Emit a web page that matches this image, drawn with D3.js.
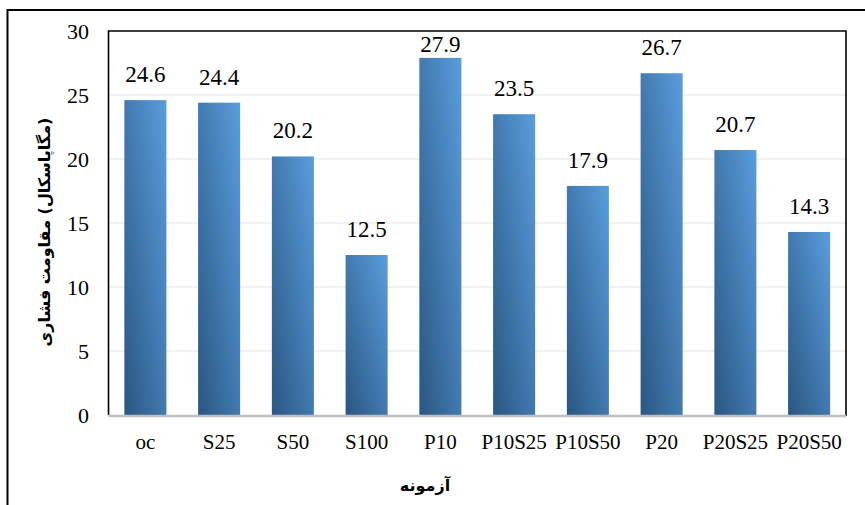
<!DOCTYPE html>
<html><head><meta charset="utf-8">
<script src="https://cdn.jsdelivr.net/npm/d3@7"></script>
</head><body style="margin:0">
<svg id="c" width="865" height="505" font-family="Liberation Serif" style="font-family:'Liberation Serif'"></svg>
<script>
const categories = ["oc","S25","S50","S100","P10","P10S25","P10S50","P20","P20S25","P20S50"];
const values = [24.6,24.4,20.2,12.5,27.9,23.5,17.9,26.7,20.7,14.3];
const yTicks = [0,5,10,15,20,25,30];
const yTitle = "(مگاپاسکال) مقاومت فشاری";
const xTitle = "آزمونه";

const SERIF = "Liberation Serif";
const FA = "DejaVu Sans";
const svg = d3.select("#c");
const L = 108.5, R = 846, T = 31, B = 415;
const x = d3.scaleBand().domain(categories).range([L, R]).paddingInner(0.43).paddingOuter(0.215);
const y = d3.scaleLinear().domain([0, 30]).range([B, T]);

const defs = svg.append("defs");
const g = defs.append("linearGradient").attr("id","bg").attr("x1",0).attr("y1",1).attr("x2",1).attr("y2",0);
g.append("stop").attr("offset","0").attr("stop-color","#2a5682");
g.append("stop").attr("offset","1").attr("stop-color","#5a9ddd");

// outer border
svg.append("rect").attr("x",7.5).attr("y",10).attr("width",900).attr("height",520)
  .attr("fill","none").attr("stroke","#000").attr("stroke-width",2);

// gridlines
svg.append("g").selectAll("line").data(yTicks.filter(d=>d>0&&d<30)).join("line")
  .attr("x1",L).attr("x2",R).attr("y1",d=>y(d)).attr("y2",d=>y(d))
  .attr("stroke","#ededed").attr("stroke-width",1.5);

// bars
svg.append("g").selectAll("rect").data(values).join("rect")
  .attr("x",(d,i)=>x(categories[i])).attr("width",x.bandwidth())
  .attr("y",d=>y(d)).attr("height",d=>B-y(d)).attr("fill","url(#bg)");

// plot frame (left, top, right)
svg.append("path").attr("d",`M${L},${B}V${T}H${R}V${B+1}`).attr("fill","none")
  .attr("stroke","#000").attr("stroke-width",1.6);
// x axis line
svg.append("line").attr("x1",L).attr("x2",R).attr("y1",B+1).attr("y2",B+1)
  .attr("stroke","#bfbfbf").attr("stroke-width",2.5);

// y tick labels
const yAxis = d3.axisLeft(y).tickValues(yTicks).tickSize(0).tickPadding(0);
const ya = svg.append("g").attr("transform",`translate(89,0)`).call(yAxis)
  .attr("font-family",SERIF).attr("font-size",22);
ya.select(".domain").remove();
ya.selectAll("text").attr("fill","#000").attr("dy","0.34em");

// x labels
const xAxis = d3.axisBottom(x).tickSize(0).tickPadding(0);
const xa = svg.append("g").attr("transform",`translate(0,449)`).call(xAxis)
  .attr("font-family",SERIF).attr("font-size",21);
xa.select(".domain").remove();
xa.selectAll("text").attr("fill","#000").attr("dy",0);

// value labels
svg.append("g").attr("font-family",SERIF).attr("font-size",23)
  .selectAll("text").data(values).join("text")
  .attr("x",(d,i)=>x(categories[i])+x.bandwidth()/2)
  .attr("y",d=>Math.max(y(d)-18, T+21))
  .attr("text-anchor","middle")
  .text(d=>d.toFixed(1));

// titles
svg.append("text").attr("transform","translate(50,232) rotate(-90)")
  .attr("text-anchor","middle").attr("direction","rtl")
  .attr("font-family",FA).attr("font-weight","bold").attr("font-size",16)
  .text(yTitle);
svg.append("text").attr("x",425).attr("y",491).attr("text-anchor","middle")
  .attr("font-family",FA).attr("font-weight","bold").attr("font-size",16)
  .text(xTitle);
</script>
</body></html>
